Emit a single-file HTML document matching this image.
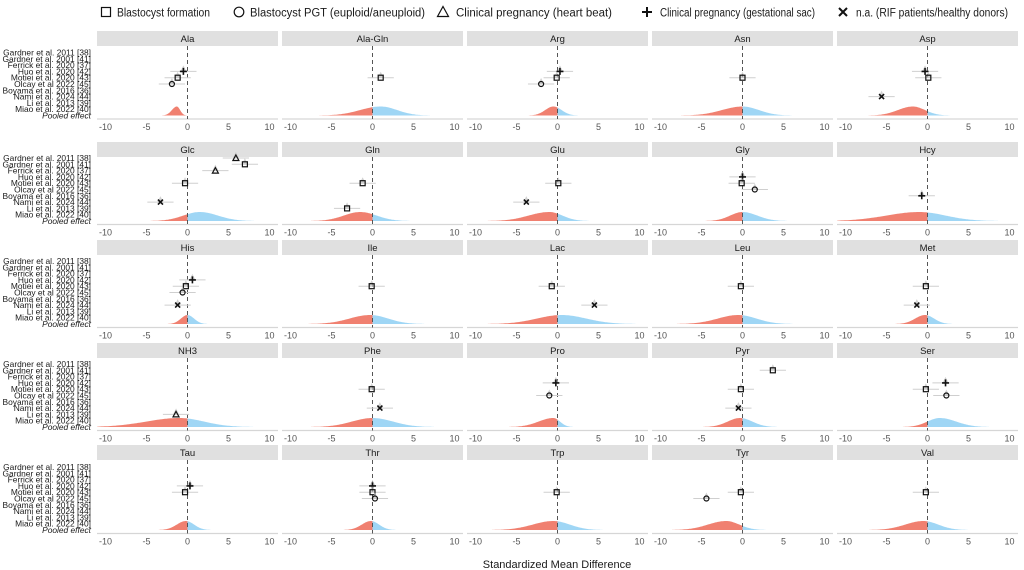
<!DOCTYPE html>
<html><head><meta charset="utf-8">
<style>
body{margin:0;background:#fff;}
svg{display:block;font-family:"Liberation Sans",Arial,sans-serif;}
</style></head>
<body>
<svg id="chart" width="1024" height="570" viewBox="0 0 1024 570" xmlns="http://www.w3.org/2000/svg">
<g id="legend" font-size="11.5" fill="#1a1a1a">
  <g>
    <rect x="101.5" y="7.5" width="9" height="9" fill="none" stroke="#111" stroke-width="1.2"/>
    <text x="117" y="16.5" textLength="93" lengthAdjust="spacingAndGlyphs">Blastocyst formation</text></g>
  <g>
    <circle cx="239" cy="12" r="4.8" fill="none" stroke="#111" stroke-width="1.2"/>
    <text x="250" y="16.5" textLength="175" lengthAdjust="spacingAndGlyphs">Blastocyst PGT (euploid/aneuploid)</text></g>
  <g>
    <path d="M443,6.5 L448.5,16.5 L437.5,16.5 Z" fill="none" stroke="#111" stroke-width="1.2"/>
    <text x="456" y="16.5" textLength="156" lengthAdjust="spacingAndGlyphs">Clinical pregnancy (heart beat)</text></g>
  <g>
    <path d="M647,7 V17 M642,12 H652" stroke="#111" stroke-width="2"/>
    <text x="660" y="16.5" textLength="155" lengthAdjust="spacingAndGlyphs">Clinical pregnancy (gestational sac)</text></g>
  <g>
    <path d="M839,8 L847,16 M847,8 L839,16" stroke="#111" stroke-width="2"/>
    <text x="856" y="16.5" textLength="152" lengthAdjust="spacingAndGlyphs">n.a. (RIF patients/healthy donors)</text></g>
</g>
<g id="panels"></g>
<text x="557" y="568" text-anchor="middle" font-size="11" fill="#1a1a1a">Standardized Mean Difference</text>
</svg>
<script>
// ---- data ----
const panelNames = ["Ala","Ala-Gln","Arg","Asn","Asp","Glc","Gln","Glu","Gly","Hcy","His","Ile","Lac","Leu","Met","NH3","Phe","Pro","Pyr","Ser","Tau","Thr","Trp","Tyr","Val"];
const studies = ["Gardner et al. 2011 [38]","Gardner et al. 2001 [41]","Ferrick et al. 2020 [37]","Huo et al. 2020 [42]","Motiei et al. 2020 [43]","Olcay et al 2022 [45]","Boyama et al. 2016 [36]","Nami et al. 2024 [44]","Li et al. 2013 [39]","Miao et al. 2022 [40]"];
const xTicks = [-10,-5,0,5,10];
// points per panel: [studyIndex, shape, SMD]
const pointsAla = [[3,"plus",-0.5],[4,"sq",-1.2],[5,"circ",-1.9]];
const pointsAlaGln = [[4,"sq",1.0]];
const pointsArg = [[3,"plus",0.3],[4,"sq",-0.1],[5,"circ",-2.0]];
const pointsAsn = [[4,"sq",0.0]];
const pointsAsp = [[3,"plus",-0.3],[4,"sq",0.1],[7,"x",-5.6]];
const pointsGlc = [[0,"tri",5.9],[1,"sq",7.0],[2,"tri",3.4],[4,"sq",-0.3],[7,"x",-3.3]];
const pointsGln = [[4,"sq",-1.2],[8,"sq",-3.1]];
const pointsGlu = [[4,"sq",0.1],[7,"x",-3.8]];
const pointsGly = [[3,"plus",0.0],[4,"sq",-0.1],[5,"circ",1.5]];
const pointsHcy = [[6,"plus",-0.7]];
const pointsHis = [[3,"plus",0.6],[4,"sq",-0.2],[5,"circ",-0.6],[7,"x",-1.2]];
const pointsIle = [[4,"sq",-0.1]];
const pointsLac = [[4,"sq",-0.7],[7,"x",4.5]];
const pointsLeu = [[4,"sq",-0.2]];
const pointsMet = [[4,"sq",-0.2],[7,"x",-1.3]];
const pointsNH3 = [[8,"tri",-1.4]];
const pointsPhe = [[4,"sq",-0.1],[7,"x",0.9]];
const pointsPro = [[3,"plus",-0.2],[5,"circ",-1.0]];
const pointsPyr = [[1,"sq",3.7],[4,"sq",-0.2],[7,"x",-0.5]];
const pointsSer = [[3,"plus",2.2],[4,"sq",-0.2],[5,"circ",2.3]];
const pointsTau = [[3,"plus",0.3],[4,"sq",-0.3]];
const pointsThr = [[3,"plus",0.0],[4,"sq",0.0],[5,"circ",0.3]];
const pointsTrp = [[4,"sq",-0.1]];
const pointsTyr = [[4,"sq",-0.2],[5,"circ",-4.4]];
const pointsVal = [[4,"sq",-0.2]];
const allPoints = [pointsAla,pointsAlaGln,pointsArg,pointsAsn,pointsAsp,pointsGlc,pointsGln,pointsGlu,pointsGly,pointsHcy,pointsHis,pointsIle,pointsLac,pointsLeu,pointsMet,pointsNH3,pointsPhe,pointsPro,pointsPyr,pointsSer,pointsTau,pointsThr,pointsTrp,pointsTyr,pointsVal];
// pooled posterior density: peak location, left spread, right spread
const pooledMode  = [-1.3, 1.0,-0.5, 0.0,-1.8, 1.5,-1.5,-1.0, 0.0,-1.0, 0.0,-0.3, 0.5,-0.5,-0.3,-1.0, 0.0,-0.5,-0.3, 1.5,-0.2,-0.2,-0.5,-2.0,-0.5];
const pooledLeft  = [ 0.6, 2.5, 1.0, 2.5, 1.8, 2.0, 2.0, 2.5, 1.5, 4.0, 0.8, 2.5, 3.0, 2.5, 1.2, 4.0, 2.5, 1.8, 1.5, 1.5, 1.1, 1.1, 2.5, 2.2, 2.2];
const pooledRight = [ 0.4, 2.0, 1.0, 2.0, 1.5, 2.2, 2.0, 1.6, 1.8, 3.2, 0.8, 2.2, 3.0, 2.2, 1.1, 3.0, 2.5, 0.8, 1.5, 2.0, 1.0, 1.0, 2.0, 1.6, 1.8];

// ---- layout ----
const rowStrip = [31,142,240,343,445];
const rowFirst = [52.5,158,261,364,467];
const step = 6.3;
const NS = "http://www.w3.org/2000/svg";
const root = document.getElementById('panels');
function mk(tag, attrs, parent){const e=document.createElementNS(NS,tag);for(const k in attrs)e.setAttribute(k,attrs[k]);(parent||root).appendChild(e);return e;}
function xScale(col,v){return 187.5+185*col+v*8.2;}

for(let r=0;r<5;r++){
  const yOf = i => rowFirst[r]+i*step;
  const pooledY = yOf(10);
  const bottom = pooledY+3.5;
  const lg = mk('g',{});
  
  
  studies.forEach((s,i)=>{
    const t=mk('text',{x:91,y:yOf(i)+3,'text-anchor':'end','font-size':8.4,fill:'#1a1a1a'},lg);
    t.textContent=s;
    
    
  });
  const pl=mk('text',{x:91,y:pooledY+3,'text-anchor':'end','font-size':8.4,'font-style':'italic',fill:'#1a1a1a'},lg);
  pl.textContent='Pooled effect';
  
  

  for(let c=0;c<5;c++){
    const p=r*5+c;
    const x0=97+185*c, w=181;
    const g=mk('g',{});
    
    
    const st=mk('rect',{x:x0,y:rowStrip[r],width:w,height:15,fill:'#e0e0e0'},g);
    
    
    const tt=mk('text',{x:x0+w/2,y:rowStrip[r]+11,'text-anchor':'middle','font-size':9.5,fill:'#1a1a1a'},g);
    tt.textContent=panelNames[p];
    
    
    const ax=mk('line',{x1:x0,x2:x0+w,y1:bottom,y2:bottom,stroke:'#d6d6d6','stroke-width':1.2},g);
    
    
    xTicks.forEach(t=>{
      const tl=mk('text',{x:xScale(c,t),y:bottom+11,'text-anchor':'middle','font-size':9,fill:'#555'},g);
      tl.textContent=String(t);
      
      
    });
    const mu=pooledMode[p], sl=pooledLeft[p], sr=pooledRight[p];
    const H=9;
    const dens=v=>{const s=v<mu?sl:sr;return H*Math.exp(-0.5*((v-mu)/s)**2);};
    const lo=Math.max(-11,mu-3*sl), hi=Math.min(11,mu+3*sr);
    let dRed='', dBlue='';
    if(lo<0){
      const e=Math.min(0,hi); let d=`M${xScale(c,lo)},${pooledY}`;
      for(let v=lo;v<=e+1e-9;v+=(e-lo)/60)d+=` L${xScale(c,v).toFixed(1)},${(pooledY-dens(v)).toFixed(1)}`;
      d+=` L${xScale(c,e)},${pooledY} Z`; dRed=d;
    }
    if(hi>0){
      const s=Math.max(0,lo); let d=`M${xScale(c,s)},${pooledY}`;
      for(let v=s;v<=hi+1e-9;v+=(hi-s)/60)d+=` L${xScale(c,v).toFixed(1)},${(pooledY-dens(v)).toFixed(1)}`;
      d+=` L${xScale(c,hi)},${pooledY} Z`; dBlue=d;
    }
    if(dRed){const e=mk('path',{d:dRed,fill:'#f08070'},g);
      
      }
    if(dBlue){const e=mk('path',{d:dBlue,fill:'#9fd6f5'},g);
      
      }
    const zl=mk('line',{x1:xScale(c,0),x2:xScale(c,0),y1:rowStrip[r]+15,y2:bottom,stroke:'#555','stroke-width':1,'stroke-dasharray':'4,3'},g);
    
    
    allPoints[p].forEach(pt=>{
      const [si,shape,v]=pt;
      const cx=xScale(c,v), cy=yOf(si);
      const pg=mk('g',{},g);
      
      
      mk('line',{x1:xScale(c,v-1.6),x2:xScale(c,v+1.6),y1:cy,y2:cy,stroke:'#cfcfcf','stroke-width':1},pg);
      mk('path',{d:`M${cx},${cy-6} L${cx+3},${cy} L${cx-3},${cy} Z`,fill:'#bdbdbd','fill-opacity':0.7},pg);
      const sw=1.2;
      if(shape==='sq') mk('rect',{x:cx-2.5,y:cy-2.5,width:5,height:5,fill:'none',stroke:'#111','stroke-width':sw},pg);
      else if(shape==='circ') mk('circle',{cx:cx,cy:cy,r:2.5,fill:'none',stroke:'#111','stroke-width':sw},pg);
      else if(shape==='tri') mk('path',{d:`M${cx},${cy-3} L${cx+3},${cy+2.5} L${cx-3},${cy+2.5} Z`,fill:'none',stroke:'#111','stroke-width':sw},pg);
      else if(shape==='plus') mk('path',{d:`M${cx},${cy-3.5} V${cy+3.5} M${cx-3.5},${cy} H${cx+3.5}`,stroke:'#111','stroke-width':1.6},pg);
      else mk('path',{d:`M${cx-2.5},${cy-2.5} L${cx+2.5},${cy+2.5} M${cx+2.5},${cy-2.5} L${cx-2.5},${cy+2.5}`,stroke:'#111','stroke-width':1.6},pg);
    });
  }
}
</script>
</body></html>
